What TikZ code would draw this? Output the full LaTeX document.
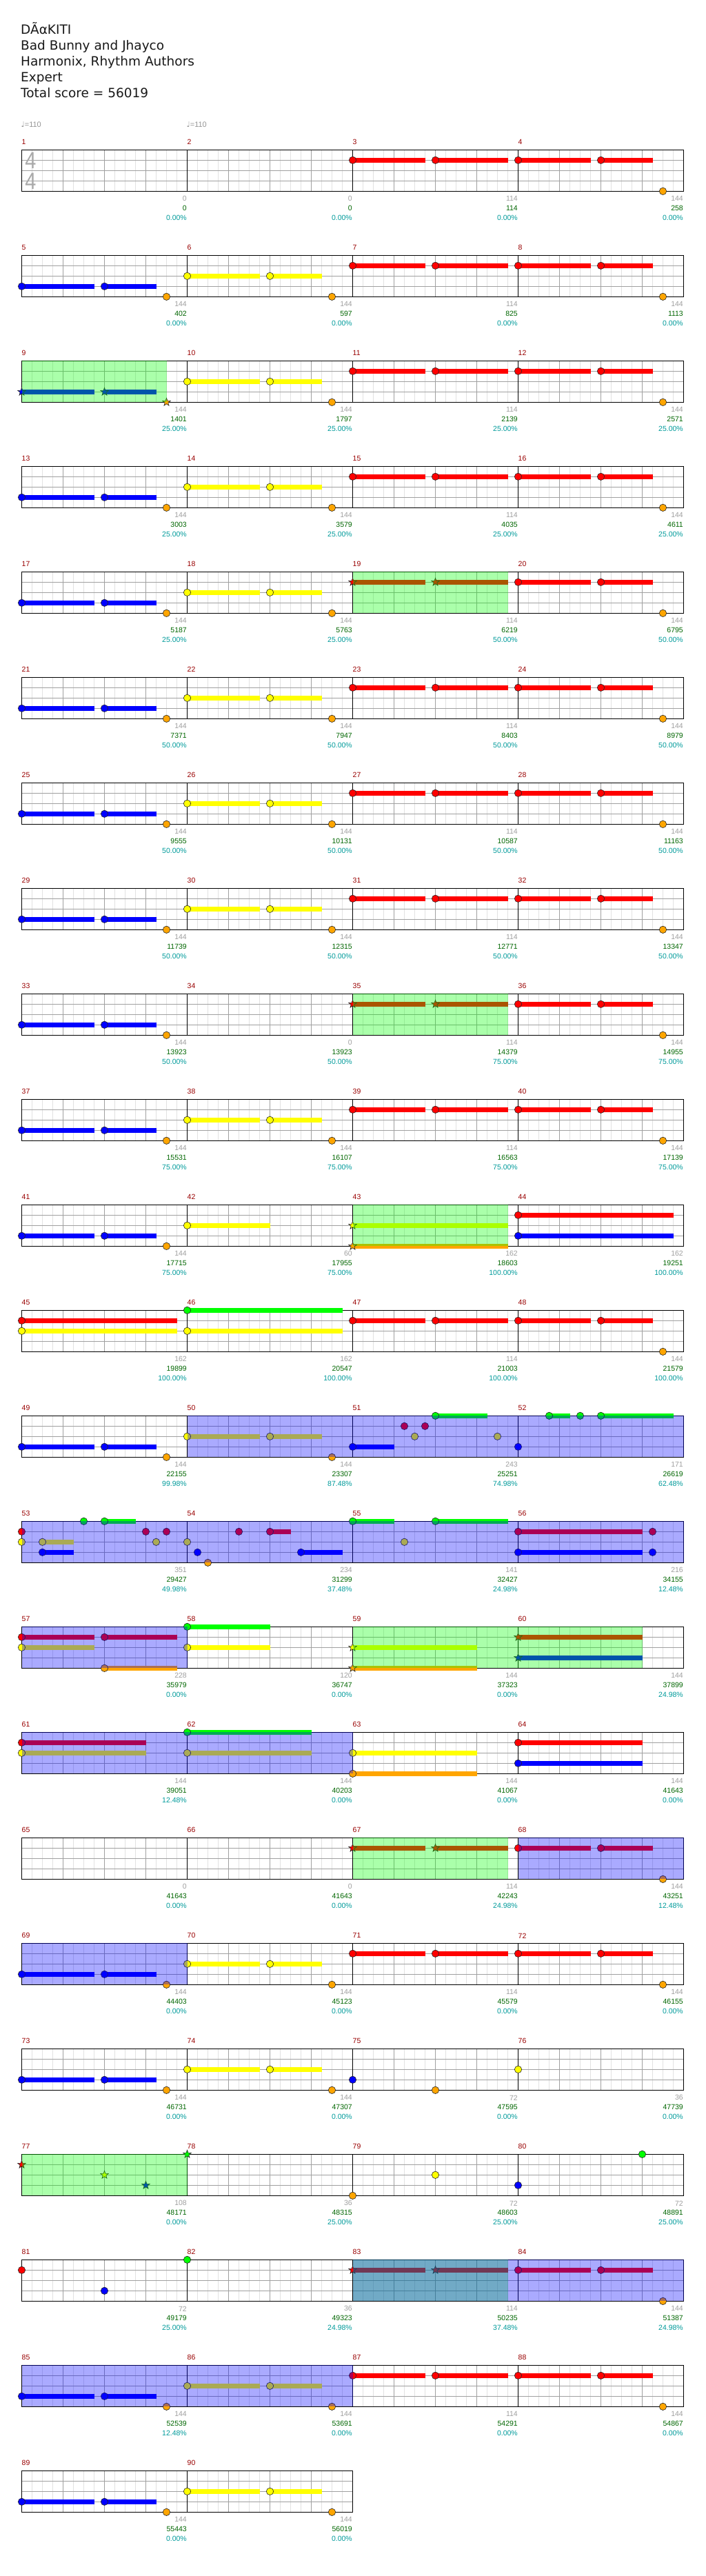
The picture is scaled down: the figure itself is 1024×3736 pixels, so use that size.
\documentclass[tikz,border=0pt]{standalone}
\usepackage{fontspec}
\setmainfont{DejaVu Sans}
\newfontfamily\labfont{Liberation Sans}
\newfontfamily\djvfont{DejaVu Sans}
\definecolor{cR}{RGB}{255,0,0}
\definecolor{cY}{RGB}{255,255,0}
\definecolor{cB}{RGB}{0,0,255}
\definecolor{cG}{RGB}{0,255,0}
\definecolor{cO}{RGB}{255,165,0}
\definecolor{mred}{RGB}{153,0,0}
\definecolor{lgray}{RGB}{160,160,160}
\definecolor{tgray}{RGB}{150,150,150}
\definecolor{dgreen}{RGB}{0,102,0}
\definecolor{tcyan}{RGB}{0,155,155}
\definecolor{gridsub}{RGB}{226,226,226}
\definecolor{gridbeat}{RGB}{160,160,160}
\definecolor{tsig}{RGB}{170,170,170}
\newcommand\Xc[2]{31.5+240*(#1)+15*(#2)}
\newcommand\Yc[2]{217.3+153*(#1)+15*(#2)}
% note: row col pos lane colour
\newcommand\Nt[5]{\filldraw[fill=#5,draw=black!85,line width=0.6pt] ({\Xc{#2}{#3}},{\Yc{#1}{#4}}) circle (5.2);}
% star note
\newcommand\Ns[5]{\filldraw[fill=#5,draw=black!85,line width=0.6pt,shift={({\Xc{#2}{#3}},{\Yc{#1}{#4}})}] (270:6) -- (306:2.5) -- (342:6) -- (18:2.5) -- (54:6) -- (90:2.5) -- (126:6) -- (162:2.5) -- (198:6) -- (234:2.5) -- cycle;}
% sustain: row col from to lane colour
\newcommand\Su[6]{\fill[#6] ({\Xc{#2}{#3}},{\Yc{#1}{#5}-3.4}) rectangle ({\Xc{#2}{#4}},{\Yc{#1}{#5}+3.4});}
% region: row col1 pos1 col2 pos2 colour
\newcommand\Rg[6]{\fill[#6,fill opacity=0.3333] ({\Xc{#2}{#3}},{\Yc{#1}{0}}) rectangle ({\Xc{#4}{#5}},{\Yc{#1}{4}});}
% labels: row col gray green pct
\newcommand\Lb[5]{%
  \node[lg] (g#1x#2) at ({\Xc{#2}{16}-0.5},{\Yc{#1}{4}+11}) {#3};
  \node[lgr] (s#1x#2) at ({\Xc{#2}{16}-0.5},{\Yc{#1}{4}+25}) {#4};
  \node[lc] (p#1x#2) at ({\Xc{#2}{16}-0.5},{\Yc{#1}{4}+38.7}) {#5\%};}
% staff grid: row, number of measures
\newcommand\Staff[2]{%
  \pgfmathsetmacro\Ytop{217.3+153*#1}
  \pgfmathsetmacro\Xend{31.5+240*#2}
  \pgfmathtruncatemacro\nlast{#2-1}
  \foreach \m in {0,...,\nlast}{
    \foreach \s in {1,2,3,5,6,7,9,10,11,13,14,15}{
      \draw[gsub] ({31.5+240*\m+15*\s},\Ytop) -- ++(0,60);}
    \foreach \s in {4,8,12}{
      \draw[gbeat] ({31.5+240*\m+15*\s},\Ytop) -- ++(0,60);}
  }
  \foreach \l in {1,2,3}{\draw[ghl] (31.5,{\Ytop+15*\l}) -- (\Xend,{\Ytop+15*\l});}
  \foreach \m in {1,...,\nlast}{\draw[gbar] ({31.5+240*\m},\Ytop) -- ++(0,60);}
  \draw[gframe] (31.5,\Ytop) rectangle (\Xend,{\Ytop+60});
}
\newcommand\PB[2]{\Su{#1}{#2}{0}{7}{3}{cB}\Su{#1}{#2}{8}{13}{3}{cB}\Nt{#1}{#2}{0}{3}{cB}\Nt{#1}{#2}{8}{3}{cB}\Nt{#1}{#2}{14}{4}{cO}}
\newcommand\PY[2]{\Su{#1}{#2}{0}{7}{2}{cY}\Su{#1}{#2}{8}{13}{2}{cY}\Nt{#1}{#2}{0}{2}{cY}\Nt{#1}{#2}{8}{2}{cY}\Nt{#1}{#2}{14}{4}{cO}}
\newcommand\PRa[2]{\Su{#1}{#2}{0}{7}{1}{cR}\Su{#1}{#2}{8}{15}{1}{cR}\Nt{#1}{#2}{0}{1}{cR}\Nt{#1}{#2}{8}{1}{cR}}
\newcommand\PRs[2]{\Su{#1}{#2}{0}{7}{1}{cR}\Su{#1}{#2}{8}{15}{1}{cR}\Ns{#1}{#2}{0}{1}{cR}\Ns{#1}{#2}{8}{1}{cR}}
\newcommand\PRb[2]{\Su{#1}{#2}{0}{7}{1}{cR}\Su{#1}{#2}{8}{13}{1}{cR}\Nt{#1}{#2}{0}{1}{cR}\Nt{#1}{#2}{8}{1}{cR}\Nt{#1}{#2}{14}{4}{cO}}
\newcommand\Std[1]{\PB{#1}{0}\PY{#1}{1}\PRa{#1}{2}\PRb{#1}{3}}
\begin{document}
\begin{tikzpicture}[x=1pt,y=-1pt,
  gsub/.style={draw=gridsub,line width=0.8pt},
  gbeat/.style={draw=gridbeat,line width=0.8pt},
  ghl/.style={draw=gridbeat,line width=1pt},
  gbar/.style={draw=black,line width=0.8pt},
  gframe/.style={draw=black,line width=1.4pt},
  lg/.style={anchor=east,inner sep=0pt,text=lgray,font=\labfont\fontsize{10.5}{10.5}\selectfont},
  lgr/.style={anchor=east,inner sep=0pt,text=dgreen,font=\labfont\fontsize{10.5}{10.5}\selectfont},
  lc/.style={anchor=east,inner sep=0pt,text=tcyan,font=\labfont\fontsize{10.5}{10.5}\selectfont},
  mnum/.style={anchor=west,inner sep=0pt,text=mred,font=\labfont\fontsize{10.5}{10.5}\selectfont},
  ttl/.style={anchor=base west,inner sep=0pt,text=black!90,font=\djvfont\fontsize{18.5}{18.5}\selectfont},
  tempo/.style={anchor=base west,inner sep=0pt,text=tgray,font=\labfont\fontsize{11}{11}\selectfont},
  tsnum/.style={inner sep=0pt,text=tsig,xscale=0.85,font=\labfont\fontsize{34}{34}\selectfont}
]
\useasboundingbox (0,0) rectangle (1024,3736);
\fill[white] (0,0) rectangle (1024,3736);
% header
\node[ttl] (t1) at (30,49.3) {DÃαKITI};
\node[ttl] (t2) at (30,72.4) {Bad Bunny and Jhayco};
\node[ttl] (t3) at (30,95.6) {Harmonix, Rhythm Authors};
\node[ttl] (t4) at (30,118.6) {Expert};
\node[ttl] (t5) at (30,141.8) {Total score = 56019};
\node[tempo] (tp1) at (30.5,184) {{\djvfont\fontsize{11}{11}\selectfont ♩}=110};
\node[tempo] (tp2) at (270.5,184) {{\djvfont\fontsize{11}{11}\selectfont ♩}=110};
% measure numbers
\foreach \r in {0,...,21}{\foreach \c in {0,...,3}{
  \pgfmathtruncatemacro\mn{4*\r+\c+1}
  \node[mnum] (mn\mn) at ({31.5+240*\c},{217.3+153*\r-11}) {\mn};}}
\node[mnum] (mn89) at (31.5,{217.3+153*22-11}) {89};
\node[mnum] (mn90) at (271.5,{217.3+153*22-11}) {90};
% ---------- row 0
\Staff{0}{4}
\node[tsnum] (ts1) at (44.5,232.5) {4};
\node[tsnum] (ts2) at (44.5,262.5) {4};
\PRa{0}{2}\PRb{0}{3}
\Lb{0}{0}{0}{0}{0.00}\Lb{0}{1}{0}{0}{0.00}\Lb{0}{2}{114}{114}{0.00}\Lb{0}{3}{144}{258}{0.00}
% ---------- row 1
\Staff{1}{4}\Std{1}
\Lb{1}{0}{144}{402}{0.00}\Lb{1}{1}{144}{597}{0.00}\Lb{1}{2}{114}{825}{0.00}\Lb{1}{3}{144}{1113}{0.00}
% ---------- row 2
\Staff{2}{4}
\Su{2}{0}{0}{7}{3}{cB}\Su{2}{0}{8}{13}{3}{cB}\Ns{2}{0}{0}{3}{cB}\Ns{2}{0}{8}{3}{cB}\Ns{2}{0}{14}{4}{cO}
\PY{2}{1}\PRa{2}{2}\PRb{2}{3}
\Rg{2}{0}{0}{0}{14}{cG}
\Lb{2}{0}{144}{1401}{25.00}\Lb{2}{1}{144}{1797}{25.00}\Lb{2}{2}{114}{2139}{25.00}\Lb{2}{3}{144}{2571}{25.00}
% ---------- row 3
\Staff{3}{4}\Std{3}
\Lb{3}{0}{144}{3003}{25.00}\Lb{3}{1}{144}{3579}{25.00}\Lb{3}{2}{114}{4035}{25.00}\Lb{3}{3}{144}{4611}{25.00}
% ---------- row 4
\Staff{4}{4}\PB{4}{0}\PY{4}{1}\PRs{4}{2}\PRb{4}{3}
\Rg{4}{2}{0}{2}{15}{cG}
\Lb{4}{0}{144}{5187}{25.00}\Lb{4}{1}{144}{5763}{25.00}\Lb{4}{2}{114}{6219}{50.00}\Lb{4}{3}{144}{6795}{50.00}
% ---------- row 5
\Staff{5}{4}\Std{5}
\Lb{5}{0}{144}{7371}{50.00}\Lb{5}{1}{144}{7947}{50.00}\Lb{5}{2}{114}{8403}{50.00}\Lb{5}{3}{144}{8979}{50.00}
% ---------- row 6
\Staff{6}{4}\Std{6}
\Lb{6}{0}{144}{9555}{50.00}\Lb{6}{1}{144}{10131}{50.00}\Lb{6}{2}{114}{10587}{50.00}\Lb{6}{3}{144}{11163}{50.00}
% ---------- row 7
\Staff{7}{4}\Std{7}
\Lb{7}{0}{144}{11739}{50.00}\Lb{7}{1}{144}{12315}{50.00}\Lb{7}{2}{114}{12771}{50.00}\Lb{7}{3}{144}{13347}{50.00}
% ---------- row 8
\Staff{8}{4}\PB{8}{0}\PRs{8}{2}\PRb{8}{3}
\Rg{8}{2}{0}{2}{15}{cG}
\Lb{8}{0}{144}{13923}{50.00}\Lb{8}{1}{0}{13923}{50.00}\Lb{8}{2}{114}{14379}{75.00}\Lb{8}{3}{144}{14955}{75.00}
% ---------- row 9
\Staff{9}{4}\Std{9}
\Lb{9}{0}{144}{15531}{75.00}\Lb{9}{1}{144}{16107}{75.00}\Lb{9}{2}{114}{16563}{75.00}\Lb{9}{3}{144}{17139}{75.00}
% ---------- row 10
\Staff{10}{4}\PB{10}{0}
\Su{10}{1}{0}{8}{2}{cY}\Nt{10}{1}{0}{2}{cY}
\Su{10}{2}{0}{15}{2}{cY}\Su{10}{2}{0}{15}{4}{cO}\Ns{10}{2}{0}{2}{cY}\Ns{10}{2}{0}{4}{cO}
\Su{10}{3}{0}{15}{1}{cR}\Su{10}{3}{0}{15}{3}{cB}\Nt{10}{3}{0}{1}{cR}\Nt{10}{3}{0}{3}{cB}
\Rg{10}{2}{0}{2}{15}{cG}
\Lb{10}{0}{144}{17715}{75.00}\Lb{10}{1}{60}{17955}{75.00}\Lb{10}{2}{162}{18603}{100.00}\Lb{10}{3}{162}{19251}{100.00}
% ---------- row 11
\Staff{11}{4}
\Su{11}{0}{0}{15}{1}{cR}\Su{11}{0}{0}{15}{2}{cY}\Nt{11}{0}{0}{1}{cR}\Nt{11}{0}{0}{2}{cY}
\Su{11}{1}{0}{15}{0}{cG}\Su{11}{1}{0}{15}{2}{cY}\Nt{11}{1}{0}{0}{cG}\Nt{11}{1}{0}{2}{cY}
\PRa{11}{2}\PRb{11}{3}
\Lb{11}{0}{162}{19899}{100.00}\Lb{11}{1}{162}{20547}{100.00}\Lb{11}{2}{114}{21003}{100.00}\Lb{11}{3}{144}{21579}{100.00}
% ---------- row 12
\Staff{12}{4}\PB{12}{0}\PY{12}{1}
\Su{12}{2}{0}{4}{3}{cB}\Su{12}{2}{8}{13}{0}{cG}\Nt{12}{2}{0}{3}{cB}\Nt{12}{2}{5}{1}{cR}\Nt{12}{2}{6}{2}{cY}\Nt{12}{2}{7}{1}{cR}\Nt{12}{2}{8}{0}{cG}\Nt{12}{2}{14}{2}{cY}
\Su{12}{3}{3}{5}{0}{cG}\Su{12}{3}{8}{15}{0}{cG}\Nt{12}{3}{0}{3}{cB}\Nt{12}{3}{3}{0}{cG}\Nt{12}{3}{6}{0}{cG}\Nt{12}{3}{8}{0}{cG}
\Rg{12}{1}{0}{3}{16}{cB}
\Lb{12}{0}{144}{22155}{99.98}\Lb{12}{1}{144}{23307}{87.48}\Lb{12}{2}{243}{25251}{74.98}\Lb{12}{3}{171}{26619}{62.48}
% ---------- row 13
\Staff{13}{4}
\Su{13}{0}{2}{5}{2}{cY}\Su{13}{0}{2}{5}{3}{cB}\Su{13}{0}{8}{11}{0}{cG}
\Nt{13}{0}{0}{1}{cR}\Nt{13}{0}{0}{2}{cY}\Nt{13}{0}{2}{2}{cY}\Nt{13}{0}{2}{3}{cB}\Nt{13}{0}{6}{0}{cG}\Nt{13}{0}{8}{0}{cG}\Nt{13}{0}{12}{1}{cR}\Nt{13}{0}{13}{2}{cY}\Nt{13}{0}{14}{1}{cR}
\Su{13}{1}{8}{10}{1}{cR}\Su{13}{1}{11}{15}{3}{cB}\Nt{13}{1}{0}{2}{cY}\Nt{13}{1}{1}{3}{cB}\Nt{13}{1}{2}{4}{cO}\Nt{13}{1}{5}{1}{cR}\Nt{13}{1}{8}{1}{cR}\Nt{13}{1}{11}{3}{cB}
\Su{13}{2}{0}{4}{0}{cG}\Su{13}{2}{8}{15}{0}{cG}\Nt{13}{2}{0}{0}{cG}\Nt{13}{2}{5}{2}{cY}\Nt{13}{2}{8}{0}{cG}
\Su{13}{3}{0}{12}{1}{cR}\Su{13}{3}{0}{12}{3}{cB}\Nt{13}{3}{0}{1}{cR}\Nt{13}{3}{0}{3}{cB}\Nt{13}{3}{13}{1}{cR}\Nt{13}{3}{13}{3}{cB}
\Rg{13}{0}{0}{3}{16}{cB}
\Lb{13}{0}{351}{29427}{49.98}\Lb{13}{1}{234}{31299}{37.48}\Lb{13}{2}{141}{32427}{24.98}\Lb{13}{3}{216}{34155}{12.48}
% ---------- row 14
\Staff{14}{4}
\Su{14}{0}{0}{7}{1}{cR}\Su{14}{0}{8}{15}{1}{cR}\Su{14}{0}{0}{7}{2}{cY}\Su{14}{0}{8}{15}{4}{cO}\Nt{14}{0}{0}{1}{cR}\Nt{14}{0}{8}{1}{cR}\Nt{14}{0}{0}{2}{cY}\Nt{14}{0}{8}{4}{cO}
\Su{14}{1}{0}{8}{0}{cG}\Su{14}{1}{0}{8}{2}{cY}\Nt{14}{1}{0}{0}{cG}\Nt{14}{1}{0}{2}{cY}
\Su{14}{2}{0}{12}{2}{cY}\Su{14}{2}{0}{12}{4}{cO}\Ns{14}{2}{0}{2}{cY}\Ns{14}{2}{0}{4}{cO}
\Su{14}{3}{0}{12}{1}{cR}\Su{14}{3}{0}{12}{3}{cB}\Ns{14}{3}{0}{1}{cR}\Ns{14}{3}{0}{3}{cB}
\Rg{14}{0}{0}{0}{16}{cB}\Rg{14}{2}{0}{3}{12}{cG}
\Lb{14}{0}{228}{35979}{0.00}\Lb{14}{1}{120}{36747}{0.00}\Lb{14}{2}{144}{37323}{0.00}\Lb{14}{3}{144}{37899}{24.98}
% ---------- row 15
\Staff{15}{4}
\Su{15}{0}{0}{12}{1}{cR}\Su{15}{0}{0}{12}{2}{cY}\Nt{15}{0}{0}{1}{cR}\Nt{15}{0}{0}{2}{cY}
\Su{15}{1}{0}{12}{0}{cG}\Su{15}{1}{0}{12}{2}{cY}\Nt{15}{1}{0}{0}{cG}\Nt{15}{1}{0}{2}{cY}
\Su{15}{2}{0}{12}{2}{cY}\Su{15}{2}{0}{12}{4}{cO}\Nt{15}{2}{0}{2}{cY}\Nt{15}{2}{0}{4}{cO}
\Su{15}{3}{0}{12}{1}{cR}\Su{15}{3}{0}{12}{3}{cB}\Nt{15}{3}{0}{1}{cR}\Nt{15}{3}{0}{3}{cB}
\Rg{15}{0}{0}{1}{16}{cB}
\Lb{15}{0}{144}{39051}{12.48}\Lb{15}{1}{144}{40203}{0.00}\Lb{15}{2}{144}{41067}{0.00}\Lb{15}{3}{144}{41643}{0.00}
% ---------- row 16
\Staff{16}{4}\PRs{16}{2}\PRb{16}{3}
\Rg{16}{2}{0}{2}{15}{cG}\Rg{16}{3}{0}{3}{16}{cB}
\Lb{16}{0}{0}{41643}{0.00}\Lb{16}{1}{0}{41643}{0.00}\Lb{16}{2}{114}{42243}{24.98}\Lb{16}{3}{144}{43251}{12.48}
% ---------- row 17
\Staff{17}{4}\Std{17}
\Rg{17}{0}{0}{0}{16}{cB}
\Lb{17}{0}{144}{44403}{0.00}\Lb{17}{1}{144}{45123}{0.00}\Lb{17}{2}{114}{45579}{0.00}\Lb{17}{3}{144}{46155}{0.00}
% ---------- row 18
\Staff{18}{4}\PB{18}{0}\PY{18}{1}
\Nt{18}{2}{0}{3}{cB}\Nt{18}{2}{8}{4}{cO}\Nt{18}{3}{0}{2}{cY}
\Lb{18}{0}{144}{46731}{0.00}\Lb{18}{1}{144}{47307}{0.00}\Lb{18}{2}{72}{47595}{0.00}\Lb{18}{3}{36}{47739}{0.00}
% ---------- row 19
\Staff{19}{4}
\Ns{19}{0}{0}{1}{cR}\Ns{19}{0}{8}{2}{cY}\Ns{19}{0}{12}{3}{cB}\Ns{19}{1}{0}{0}{cG}
\Nt{19}{2}{0}{4}{cO}\Nt{19}{2}{8}{2}{cY}\Nt{19}{3}{0}{3}{cB}\Nt{19}{3}{12}{0}{cG}
\Rg{19}{0}{0}{0}{16}{cG}
\Lb{19}{0}{108}{48171}{0.00}\Lb{19}{1}{36}{48315}{25.00}\Lb{19}{2}{72}{48603}{25.00}\Lb{19}{3}{72}{48891}{25.00}
% ---------- row 20
\Staff{20}{4}
\Nt{20}{0}{0}{1}{cR}\Nt{20}{0}{8}{3}{cB}\Nt{20}{1}{0}{0}{cG}
\PRs{20}{2}\PRb{20}{3}
\Rg{20}{2}{0}{2}{15}{cG}\Rg{20}{2}{0}{3}{16}{cB}
\Lb{20}{0}{72}{49179}{25.00}\Lb{20}{1}{36}{49323}{24.98}\Lb{20}{2}{114}{50235}{37.48}\Lb{20}{3}{144}{51387}{24.98}
% ---------- row 21
\Staff{21}{4}\Std{21}
\Rg{21}{0}{0}{1}{16}{cB}
\Lb{21}{0}{144}{52539}{12.48}\Lb{21}{1}{144}{53691}{0.00}\Lb{21}{2}{114}{54291}{0.00}\Lb{21}{3}{144}{54867}{0.00}
% ---------- row 22
\Staff{22}{2}\PB{22}{0}\PY{22}{1}
\Lb{22}{0}{144}{55443}{0.00}\Lb{22}{1}{144}{56019}{0.00}
\end{tikzpicture}
\end{document}
